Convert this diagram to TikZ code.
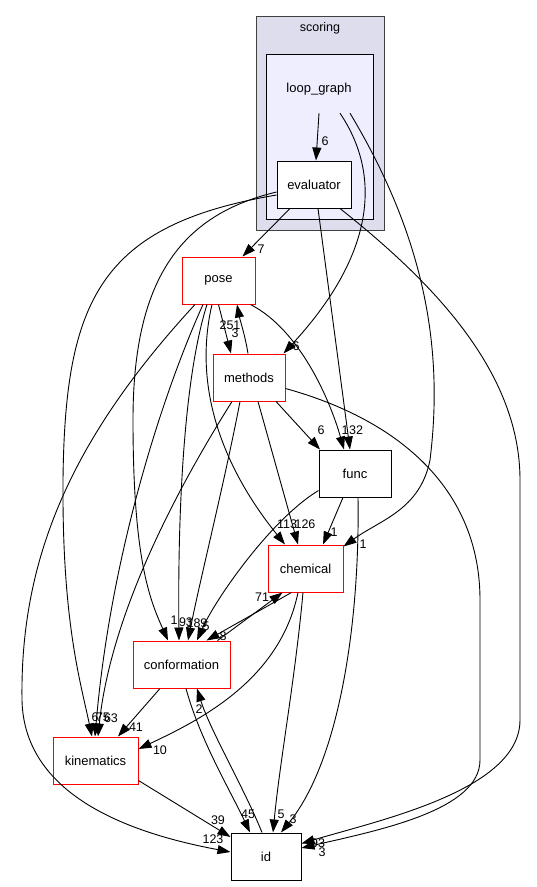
\documentclass[tikz,border=0pt]{standalone}
\usepackage{fontspec}
\setmainfont{Liberation Sans}
\usetikzlibrary{arrows.meta}
\definecolor{clusterbg}{RGB}{221,221,238}
\definecolor{innerbg}{RGB}{238,238,255}
\definecolor{dirred}{RGB}{255,0,0}
\definecolor{clusterline}{RGB}{64,64,64}

\begin{document}
\begin{tikzpicture}[x=1pt,y=-1pt,
    dir/.style={draw=dirred,line width=1pt,fill=white,inner sep=0pt,minimum height=47pt,font=\fontsize{13}{15}\selectfont},
    dirb/.style={dir,draw=black},
    lbl/.style={inner sep=0pt,font=\fontsize{12.5}{14}\selectfont},
    dep/.style={line width=0.9pt,-{Triangle[length=13pt,width=9pt]}}]
    \useasboundingbox (0,0) rectangle (536,887);

    % Clusters: scoring and loop_graph
    \draw[clusterline,fill=clusterbg,line width=0.9pt] (256,16) rectangle (384,230);
    \node[lbl] (scoringlbl) at (320,28) {scoring};
    \draw[fill=innerbg,line width=0.9pt] (266,54) rectangle (373,219);
    \node[lbl,font=\fontsize{13}{15}\selectfont,minimum width=72pt,minimum height=48pt] (lg) at (319,89) {loop\_graph};

    % Directories
    \node[dirb,minimum width=74pt] (ev) at (314,184.5) {evaluator};
    \node[dir,minimum width=73pt] (pose) at (218.5,280.5) {pose};
    \node[dir,minimum width=72pt] (methods) at (249,377.5) {methods};
    \node[dirb,minimum width=72pt] (func) at (355,473.5) {func};
    \node[dir,minimum width=75pt] (chem) at (305.5,568.5) {chemical};
    \node[dir,minimum width=97pt] (conf) at (181.5,664.5) {conformation};
    \node[dir,minimum width=85pt] (kin) at (95.5,760.5) {kinematics};
    \node[dirb,minimum width=70pt] (id) at (266,856.5) {id};

    % From loop_graph
    \draw[dep] (lg.south) -- ([xshift=2]ev.north);
    \draw[dep] ([xshift=21]lg.south) .. controls (385,180) and (370,260) .. ([xshift=-2]methods.north east);
    \draw[dep] ([xshift=31]lg.south) .. controls (420,230) and (445,340) .. (430,460) .. controls (420,510) and (380,520) .. ([yshift=-2]chem.north east);
    \node[lbl] (l1) at (325,141) {6};
    \node[lbl] (l2) at (296,346) {6};
    \node[lbl] (l3) at (363,544) {1};

    % From evaluator
    \draw[dep] ([xshift=-24]ev.south) -- ([xshift=24]pose.north);
    \draw[dep] ([xshift=4]ev.south) -- ([xshift=-5]func.north);
    \draw[dep] ([yshift=-7.5]ev.west) .. controls (180,215) and (133,280) .. (133,420) .. controls (133,560) and (150,600) .. ([xshift=-13.5]conf.north);
    \draw[dep] ([yshift=-10.5]ev.west) .. controls (100,225) and (65,300) .. (63,480) .. controls (62,620) and (80,680) .. ([xshift=-3.5]kin.north);
    \draw[dep] ([xshift=26]ev.south) .. controls (430,280) and (520,370) .. (520,480) -- (520,720) .. controls (520,790) and (380,820) .. ([yshift=13]id.east);
    \node[lbl] (l4) at (261,249) {7};
    \node[lbl] (l5) at (356,430) {32};
    \node[lbl] (l6) at (174,620) {1};
    \node[lbl] (l7) at (95,717) {6};
    \node[lbl] (l8) at (318,843) {93};

    % From pose
    \draw[dep] (pose.south) -- ([xshift=-18]methods.north);
    \draw[dep] ([xshift=-1]methods.north) .. controls (245,335) and (240,320) .. ([xshift=18.5]pose.south);
    \draw[dep] ([xshift=-5]pose.south east) .. controls (300,330) and (330,400) .. ([xshift=-11]func.north);
    \draw[dep] ([xshift=-6.5]pose.south) .. controls (192,390) and (225,470) .. ([xshift=-20.5]chem.north);
    \draw[dep] ([xshift=-11.5]pose.south) .. controls (180,390) and (178,550) .. ([xshift=-2.5]conf.north);
    \draw[dep] ([xshift=-15.5]pose.south) .. controls (160,400) and (110,560) .. ([xshift=-0.5]kin.north);
    \draw[dep] ([xshift=-23.5]pose.south) .. controls (70,440) and (20,560) .. (22,700) .. controls (24,800) and (140,835) .. ([yshift=4.5]id.west);
    \node[lbl] (l9) at (230,325) {251};
    \node[lbl] (l10) at (235,333) {3};
    \node[lbl] (l11) at (345,430) {1};
    \node[lbl] (l12) at (287,524) {113};
    \node[lbl] (l13) at (186,622) {93};
    \node[lbl] (l14) at (103,717) {75};
    \node[lbl] (l15) at (213,839) {123};

    % From methods
    \draw[dep] ([xshift=27]methods.south) -- ([xshift=-35]func.north);
    \draw[dep] ([xshift=9]methods.south) -- ([xshift=-7.5]chem.north);
    \draw[dep] ([xshift=-9]methods.south) .. controls (225,480) and (200,580) .. ([xshift=6.5]conf.north);
    \draw[dep] ([xshift=-17]methods.south) .. controls (170,500) and (110,620) .. ([xshift=2.5]kin.north);
    \draw[dep] ([yshift=-11]methods.east) .. controls (400,420) and (480,490) .. (480,600) -- (480,760) .. controls (480,810) and (380,830) .. ([yshift=8.5]id.east);
    \node[lbl] (l16) at (321,430) {6};
    \node[lbl] (l17) at (305,524) {126};
    \node[lbl] (l18) at (197,623) {189};
    \node[lbl] (l19) at (111,718) {63};
    \node[lbl] (l20) at (322,852) {3};

    % From func
    \draw[dep] ([xshift=-12]func.south) -- ([xshift=17.5]chem.north);
    \draw[dep] ([yshift=-17]func.west) .. controls (270,520) and (215,600) .. ([xshift=15.5]conf.north);
    \draw[dep] ([xshift=3]func.south) .. controls (360,620) and (340,760) .. ([xshift=15]id.north);
    \node[lbl] (l21) at (334,532) {1};
    \node[lbl] (l22) at (206,626) {5};
    \node[lbl] (l23) at (293,819) {3};

    % From chemical
    \draw[dep] ([xshift=-14]chem.south) -- ([xshift=25]conf.north);
    \draw[dep] ([xshift=-7.5]chem.south) .. controls (280,680) and (200,720) .. ([yshift=11.5]kin.east);
    \draw[dep] ([xshift=-2.5]chem.south) .. controls (295,680) and (280,760) .. ([xshift=7]id.north);
    \node[lbl] (l24) at (223,636) {8};
    \node[lbl] (l25) at (160,750) {10};
    \node[lbl] (l26) at (281,814) {5};

    % From conformation, kinematics and id
    \draw[dep] ([xshift=36]conf.north) -- ([xshift=-23]chem.south);
    \draw[dep] ([xshift=-21.5]conf.south) -- ([xshift=22.5]kin.north);
    \draw[dep] ([xshift=4.5]conf.south) .. controls (200,740) and (230,790) .. ([xshift=-16]id.north);
    \draw[dep] ([xshift=-4]id.north) .. controls (245,790) and (210,730) .. ([xshift=15.5]conf.south);
    \draw[dep] ([yshift=4]kin.south east) -- ([yshift=19.5]id.west);
    \node[lbl] (l27) at (262,597) {71};
    \node[lbl] (l28) at (136,727) {41};
    \node[lbl] (l29) at (248,814) {45};
    \node[lbl] (l30) at (199,709) {2};
    \node[lbl] (l31) at (218,820) {39};

\end{tikzpicture}
\end{document}
